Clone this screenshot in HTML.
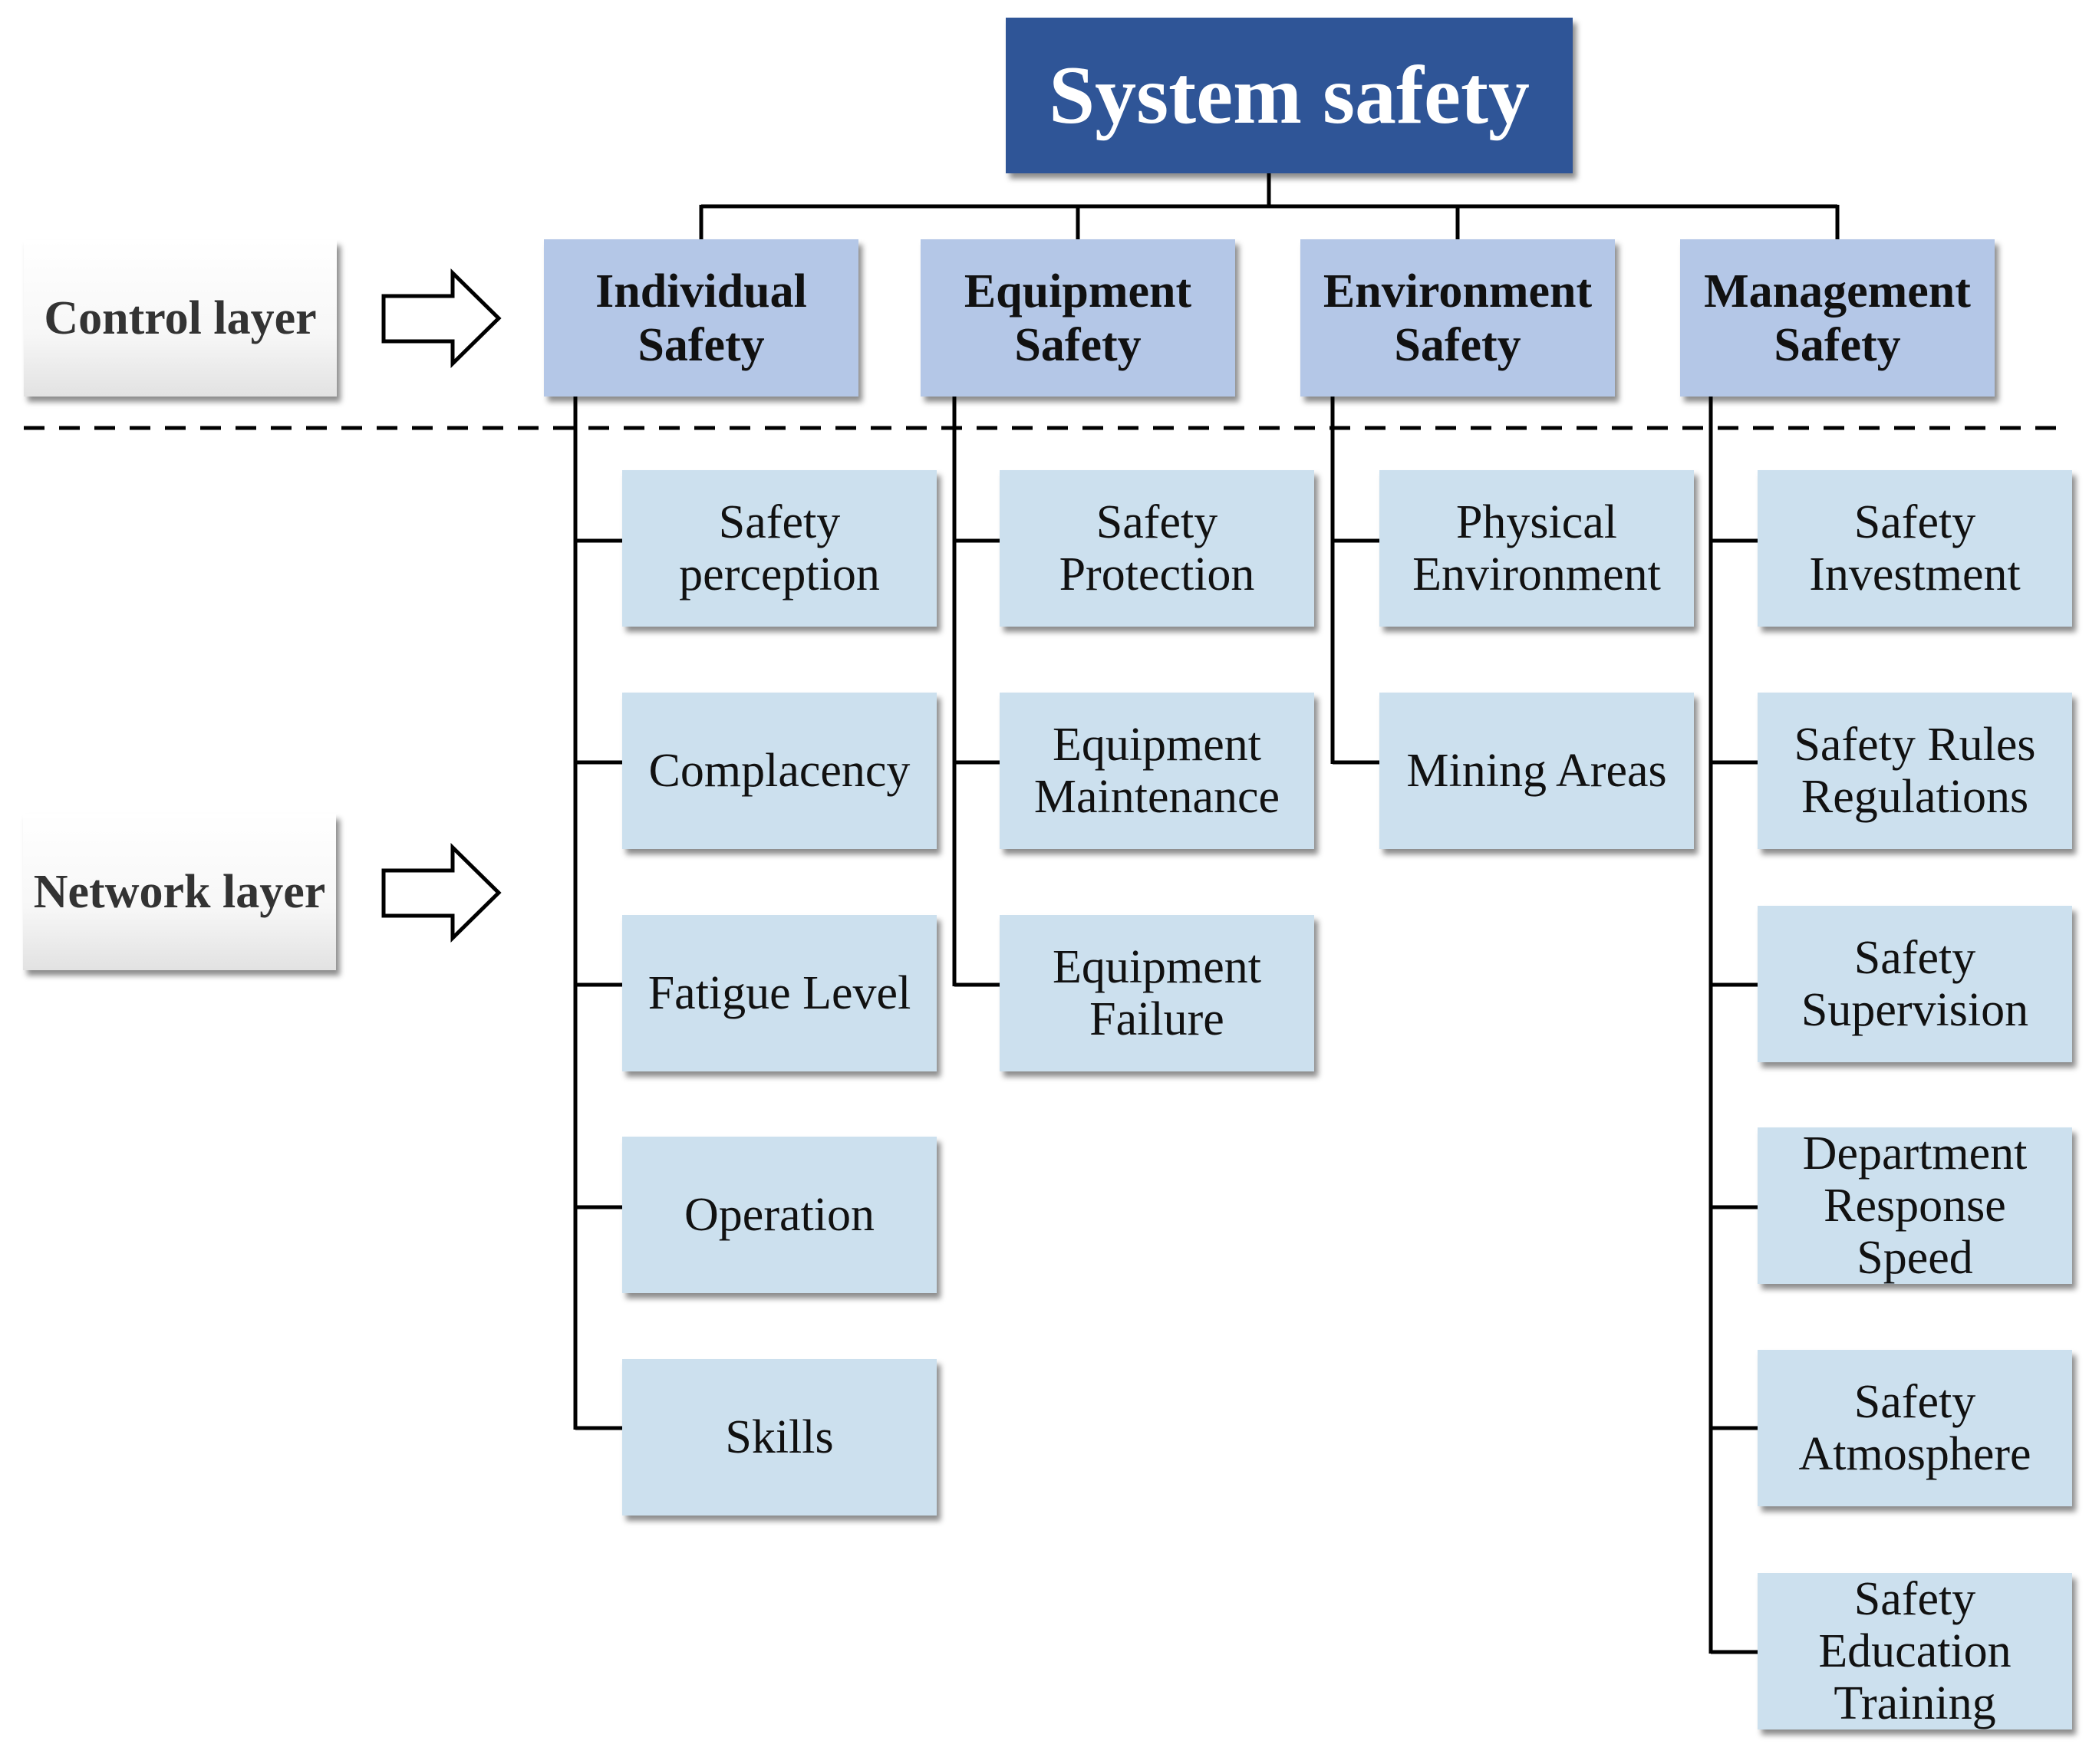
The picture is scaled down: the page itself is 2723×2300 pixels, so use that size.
<!DOCTYPE html>
<html><head><meta charset="utf-8"><style>
body{margin:0;width:2723px;height:2300px;background:#fff;position:relative;overflow:hidden;font-family:"Liberation Serif",serif}
.b{position:absolute;display:flex;align-items:center;justify-content:center;text-align:center;box-shadow:5px 7px 7px rgba(0,0,0,0.45);box-sizing:border-box;white-space:nowrap}
.top{background:#2F5597;color:#fff;font-weight:bold;font-size:108px}
.c{background:#B4C7E7;color:#111;font-weight:bold;font-size:62px;line-height:70px;width:410px;height:205px;top:312px}
.n{background:#CCE0EE;color:#111;font-size:62px;line-height:68px;width:410px;height:204px}
.l{background:linear-gradient(#fff 0%,#f7f7f7 60%,#e2e2e2 100%);color:#333;font-weight:bold;font-size:62px;width:408px;height:204px}
svg{position:absolute;left:0;top:0}
</style></head><body>
<svg width="2723" height="2300">
<g stroke="#000" stroke-width="5" fill="none">
<line x1="1654" y1="226" x2="1654" y2="269"/>
<line x1="914" y1="269" x2="2395" y2="269"/>
<line x1="914" y1="267" x2="914" y2="312"/>
<line x1="1405" y1="267" x2="1405" y2="312"/>
<line x1="1900" y1="267" x2="1900" y2="312"/>
<line x1="2395" y1="267" x2="2395" y2="312"/>
<line x1="31" y1="558" x2="2692" y2="558" stroke-dasharray="27 19"/>
<line x1="750" y1="517" x2="750" y2="1864"/>
<line x1="1244" y1="517" x2="1244" y2="1286"/>
<line x1="1737" y1="517" x2="1737" y2="996"/>
<line x1="2230" y1="517" x2="2230" y2="2156"/>
<path d="M750 705H811M750 994H811M750 1284H811M750 1574H811M750 1862H811"/>
<path d="M1244 705H1303M1244 994H1303M1244 1284H1303"/>
<path d="M1737 705H1798M1737 994H1798"/>
<path d="M2230 705H2291M2230 994H2291M2230 1284H2291M2230 1574H2291M2230 1862H2291M2230 2154H2291"/>
</g>
<g stroke="#000" stroke-width="5" fill="#fff" stroke-linejoin="miter">
<path d="M500 386H590V356L650 415L590 474V445H500Z"/>
<path d="M500 1135H590V1105L650 1164L590 1223V1194H500Z"/>
</g>
</svg>
<div class="b top" style="left:1311px;top:23px;width:739px;height:203px">System safety</div>
<div class="b l" style="left:31px;top:313px">Control layer</div>
<div class="b l" style="left:30px;top:1061px">Network layer</div>
<div class="b c" style="left:709px">Individual<br>Safety</div>
<div class="b c" style="left:1200px">Equipment<br>Safety</div>
<div class="b c" style="left:1695px">Environment<br>Safety</div>
<div class="b c" style="left:2190px">Management<br>Safety</div>

<div class="b n" style="left:811px;top:613px">Safety<br>perception</div>
<div class="b n" style="left:811px;top:903px">Complacency</div>
<div class="b n" style="left:811px;top:1193px">Fatigue Level</div>
<div class="b n" style="left:811px;top:1482px">Operation</div>
<div class="b n" style="left:811px;top:1772px">Skills</div>

<div class="b n" style="left:1303px;top:613px">Safety<br>Protection</div>
<div class="b n" style="left:1303px;top:903px">Equipment<br>Maintenance</div>
<div class="b n" style="left:1303px;top:1193px">Equipment<br>Failure</div>

<div class="b n" style="left:1798px;top:613px">Physical<br>Environment</div>
<div class="b n" style="left:1798px;top:903px">Mining Areas</div>

<div class="b n" style="left:2291px;top:613px">Safety<br>Investment</div>
<div class="b n" style="left:2291px;top:903px">Safety Rules<br>Regulations</div>
<div class="b n" style="left:2291px;top:1181px">Safety<br>Supervision</div>
<div class="b n" style="left:2291px;top:1470px">Department<br>Response<br>Speed</div>
<div class="b n" style="left:2291px;top:1760px">Safety<br>Atmosphere</div>
<div class="b n" style="left:2291px;top:2051px">Safety<br>Education<br>Training</div>
</body></html>
